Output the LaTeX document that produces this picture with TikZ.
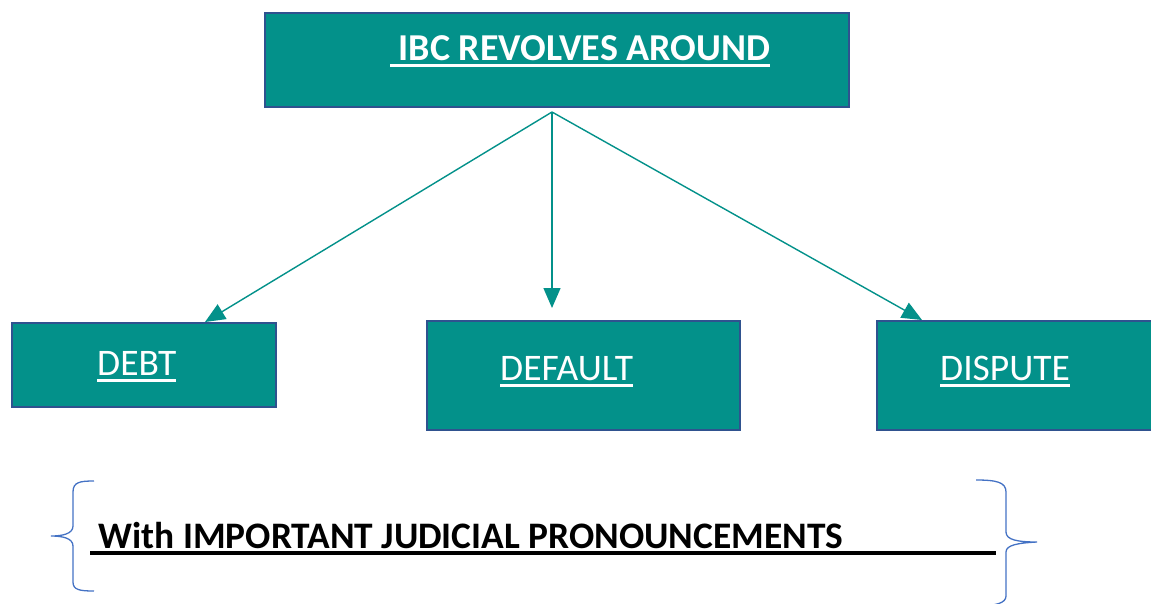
\documentclass[tikz,border=0pt]{standalone}
\usepackage{fontspec}
\setmainfont{Carlito}
\usetikzlibrary{arrows.meta}

\definecolor{tealfill}{HTML}{03918A}
\definecolor{boxedge}{HTML}{2F528F}
\definecolor{bracecol}{HTML}{4472C4}

% underline with a thicker rule
\newcommand{\ulbox}[2][3pt]{\setbox0\hbox{#2}\rlap{\rule[-6.5pt]{\wd0}{#1}}\box0}

\tikzset{
  box/.style={draw=boxedge, line width=2pt, fill=tealfill, inner sep=0pt},
  boxtext/.style={text=white, inner sep=0pt, anchor=base west, font=\fontsize{37.5}{40}\selectfont},
  link/.style={draw=tealfill, line width=1.4pt, -{Triangle[length=20pt, width=17pt]}},
  brace/.style={draw=bracecol, line width=1.3pt}
}

\begin{document}
\begin{tikzpicture}[x=1pt, y=-1pt]
    \useasboundingbox (0,0) rectangle (1151,603);

    % Top box
    \node[box, minimum width=584pt, minimum height=94pt] (top) at (557,60) {};
    \node[boxtext, font=\bfseries\fontsize{38}{40}\selectfont] (toptext) at (390,60) {\ulbox{\ IBC REVOLVES AROUND}};

    % The three boxes below
    \node[box, minimum width=264pt, minimum height=84pt] (debt) at (144,365) {};
    \node[boxtext] (debttext) at (97,375) {\ulbox{DEBT}};

    \node[box, minimum width=313pt, minimum height=109pt] (default) at (583.5,375.5) {};
    \node[boxtext] (defaulttext) at (500,380) {\ulbox{DEFAULT}};

    \node[box, minimum width=290pt, minimum height=109pt] (dispute) at (1022,375.5) {};
    \node[boxtext] (disputetext) at (940,380) {\ulbox{DISPUTE}};

    % Arrows from the top box
    \coordinate (hub) at (552,112);
    \coordinate (defaulttip) at (552,308);
    \draw[link] (hub) -- ([xshift=61pt]debt.north);
    \draw[link] (hub) -- (defaulttip);
    \draw[link] (hub) -- ([xshift=-100pt]dispute.north);

    % Bottom line with braces
    \node[anchor=base west, inner sep=0pt, font=\bfseries\fontsize{37.4}{40}\selectfont] (judicial) at (90,548)
        {\ulbox[4pt]{\makebox[906pt][l]{\ With IMPORTANT JUDICIAL PRONOUNCEMENTS}}};
    \draw[brace] (94,481) .. controls (80,481) and (73,482) .. (73,492) -- (73,526)
        .. controls (73,534) and (62,536) .. (51,536)
        .. controls (62,536) and (73,538) .. (73,546) -- (73,582)
        .. controls (73,590) and (80,591) .. (94,591);
    \draw[brace] (976,480) .. controls (996,480) and (1006,482) .. (1006,492) -- (1006,532)
        .. controls (1006,540) and (1018,542) .. (1037,542)
        .. controls (1018,543) and (1006,545) .. (1006,552) -- (1006,596)
        .. controls (1006,603) and (996,606) .. (976,606);
\end{tikzpicture}
\end{document}
